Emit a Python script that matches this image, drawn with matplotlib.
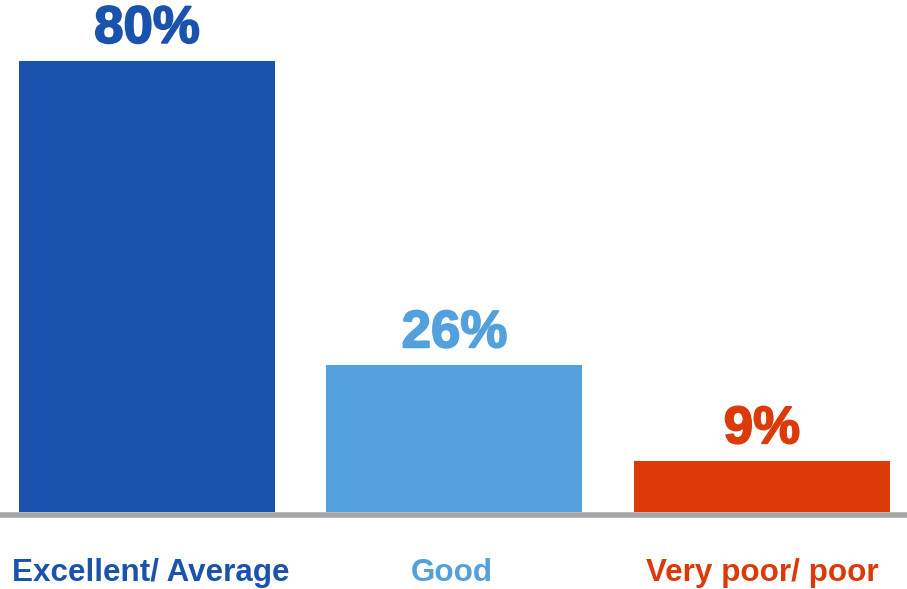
import matplotlib.pyplot as plt
import matplotlib.patheffects as pe

categories = ['Excellent/ Average', 'Good', 'Very poor/ poor']
shares = [80, 26, 9]
colors = ['#1953ad', '#52a0dc', '#dc3a08']

plt.rcParams['font.family'] = ['Liberation Sans', 'DejaVu Sans']

fig = plt.figure(figsize=(9.07, 5.89), dpi=100)
# axes bottom sits on the grey baseline, top at the figure edge
ax = fig.add_axes([0, 77 / 589, 1, 512 / 589])

x = range(len(categories))
ax.bar(x, shares, width=0.833, color=colors)
ax.set_xlim(-0.478, 2.472)
ax.set_ylim(0, 90.8)

for s in ['top', 'left', 'right']:
    ax.spines[s].set_visible(False)
ax.spines['bottom'].set_color('#a6a6a6')
ax.spines['bottom'].set_linewidth(4)
ax.spines['bottom'].set_position(('outward', 1.8))
ax.set_xticks([])
ax.set_yticks([])

label_dx = [3, -2, 0]
for i, (v, c) in enumerate(zip(shares, colors)):
    # value above each bar
    ax.annotate('%d%%' % v, xy=(i, v), xytext=(0, 13), textcoords='offset points',
                ha='center', va='baseline', fontsize=38, fontweight='bold', color=c,
                path_effects=[pe.withStroke(linewidth=1.3, foreground=c)])
    # category name under the baseline
    ax.annotate(categories[i], xy=(i, 0), xytext=(label_dx[i], -49.7),
                textcoords='offset points', ha='center', va='baseline',
                fontsize=22.6, fontweight='bold', color=c, annotation_clip=False)

fig.savefig('out.png', dpi=100)
